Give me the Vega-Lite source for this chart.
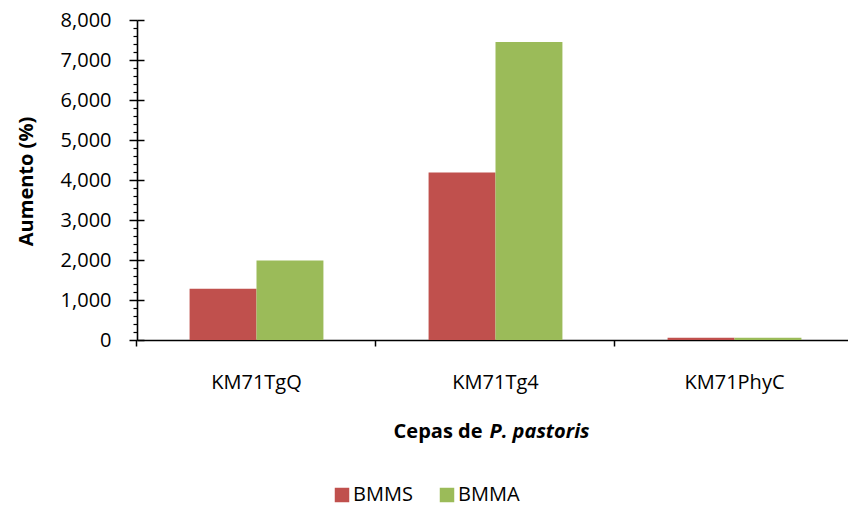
{
  "$schema": "https://vega.github.io/schema/vega-lite/v6.json",
  "width": 717,
  "height": 320,
  "autosize": {"type": "none"},
  "padding": {"left": 137, "top": 20, "right": 0, "bottom": 168},
  "background": "white",
  "config": {
    "view": {"stroke": null},
    "font": "Open Sans",
    "axis": {"domainColor": "black", "tickColor": "black", "labelColor": "black", "titleColor": "black", "grid": false, "domainWidth": 1.6, "tickWidth": 1.5}
  },
  "data": {
    "values": [
      {"cepa": "KM71TgQ", "medio": "BMMS", "valor": 1280},
      {"cepa": "KM71TgQ", "medio": "BMMA", "valor": 1990},
      {"cepa": "KM71Tg4", "medio": "BMMS", "valor": 4190},
      {"cepa": "KM71Tg4", "medio": "BMMA", "valor": 7450},
      {"cepa": "KM71PhyC", "medio": "BMMS", "valor": 55},
      {"cepa": "KM71PhyC", "medio": "BMMA", "valor": 55}
    ]
  },
  "layer": [
    {
      "mark": {"type": "bar", "opacity": 0},
      "encoding": {
        "x": {"field": "cepa", "type": "nominal", "sort": ["KM71TgQ", "KM71Tg4", "KM71PhyC"],
          "scale": {"paddingInner": 0.44, "paddingOuter": 0.22},
          "axis": {"orient": "bottom", "labels": false, "domain": false, "tickSize": 6, "bandPosition": -0.393,
            "title": "P. pastoris", "titleFont": "Open Sans", "titleFontSize": 20, "titleFontWeight": "bold", "titleFontStyle": "italic", "titleAlign": "left", "titleAnchor": null, "titleX": 352, "titleY": 97, "titleBaseline": "alphabetic"}},
        "y": {"field": "valor", "type": "quantitative", "scale": {"domain": [0, 8000], "nice": false},
          "axis": {"orient": "left", "values": [200, 400, 600, 800, 1200, 1400, 1600, 1800, 2200, 2400, 2600, 2800, 3200, 3400, 3600, 3800, 4200, 4400, 4600, 4800, 5200, 5400, 5600, 5800, 6200, 6400, 6600, 6800, 7200, 7400, 7600, 7800],
            "labels": false, "domain": false, "tickSize": 4, "tickWidth": 1.2, "title": null}}
      }
    },
    {
      "mark": {"type": "bar", "opacity": 0},
      "encoding": {
        "x": {"field": "cepa", "type": "nominal", "sort": ["KM71TgQ", "KM71Tg4", "KM71PhyC"],
          "scale": {"paddingInner": 0.44, "paddingOuter": 0.22}, "axis": null},
        "y": {"field": "valor", "type": "quantitative", "scale": {"domain": [0, 8000], "nice": false},
          "axis": {"orient": "left", "values": [0, 1000, 2000, 3000, 4000, 5000, 6000, 7000, 8000], "labels": false, "domain": false, "tickSize": -7, "title": null}}
      }
    },
    {
      "mark": {"type": "bar"},
      "encoding": {
        "x": {"field": "cepa", "type": "nominal", "sort": ["KM71TgQ", "KM71Tg4", "KM71PhyC"],
          "scale": {"paddingInner": 0.44, "paddingOuter": 0.22},
          "axis": {"orient": "bottom", "ticks": false, "tickSize": 0, "labelAngle": 0, "labelFontSize": 20, "labelPadding": 48, "labelBaseline": "alphabetic",
            "title": "Cepas de", "titleFontSize": 20, "titleFontWeight": "bold", "titleAlign": "right", "titleAnchor": null, "titleX": 345, "titleY": 97, "titleBaseline": "alphabetic"}},
        "xOffset": {"field": "medio", "type": "nominal", "sort": ["BMMS", "BMMA"], "scale": {"paddingInner": 0, "paddingOuter": 0}},
        "y": {"field": "valor", "type": "quantitative", "scale": {"domain": [0, 8000], "nice": false},
          "axis": {"orient": "left", "values": [0, 1000, 2000, 3000, 4000, 5000, 6000, 7000, 8000], "format": ",d", "tickSize": 8, "labelFontSize": 20, "labelPadding": 18, "labelBaseline": "middle",
            "title": "Aumento (%)", "titleFontSize": 20, "titleFontWeight": "bold", "titleAngle": 270, "titleAlign": "center", "titleBaseline": "middle", "titleAnchor": null, "titleX": -111, "titleY": 161}},
        "color": {"field": "medio", "type": "nominal", "sort": ["BMMS", "BMMA"],
          "scale": {"domain": ["BMMS", "BMMA"], "range": ["#C0504D", "#9BBB59"]},
          "legend": {"orient": "none", "direction": "horizontal", "legendX": 195, "legendY": 465, "title": null, "symbolType": "square", "symbolSize": 210, "symbolStrokeWidth": 0, "symbolOpacity": 1, "labelFontSize": 20, "labelColor": "black", "labelOffset": 1, "columnPadding": 24}}
      }
    }
  ],
  "resolve": {"axis": {"x": "independent", "y": "independent"}}
}
